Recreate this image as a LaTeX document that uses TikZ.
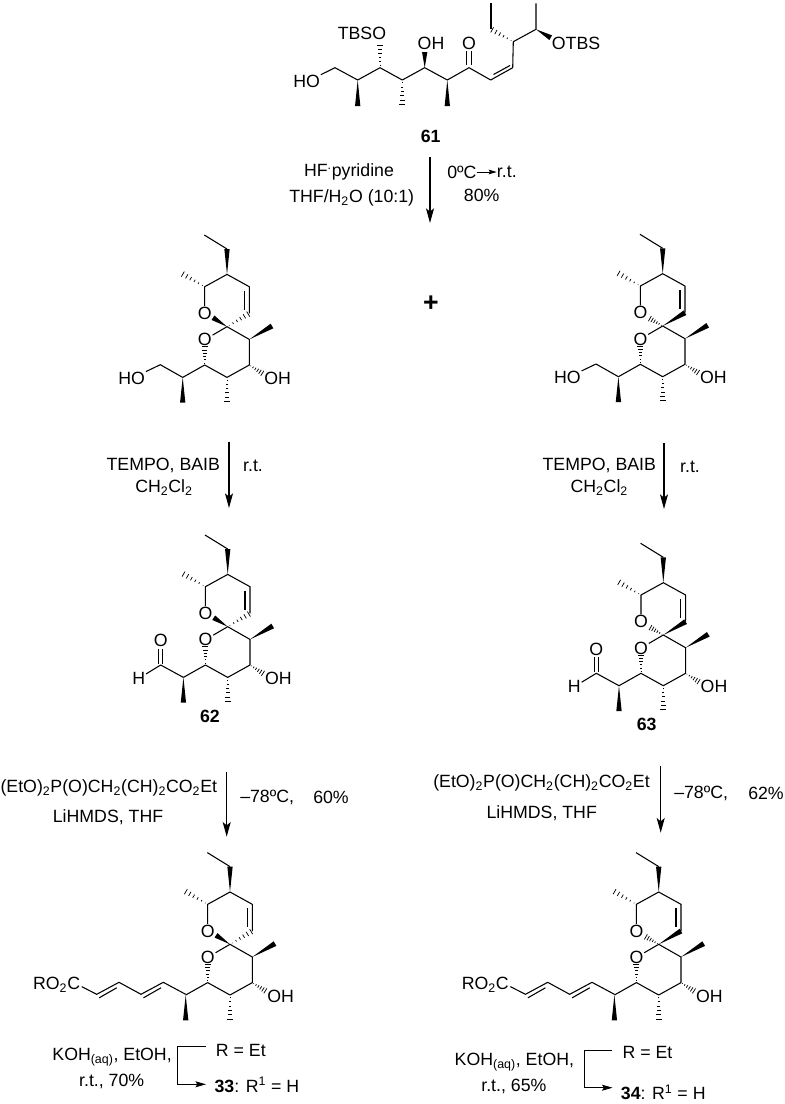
\documentclass[tikz,border=0pt]{standalone}
\usepackage{fontspec}
\setmainfont{Liberation Sans}
\usetikzlibrary{calc,arrows.meta,positioning}

\newcommand{\hashbond}[2]{%
	\foreach \t in {0.1,0.27,0.44,0.61,0.78,0.95} {%
		\draw[hash] ($#1!\t!#2!\t*2.3pt!90:#2$) -- ($#1!\t!#2!\t*2.3pt!-90:#2$);}}
\newcommand{\wedgebond}[2]{%
	\fill #1 -- ($#2!2pt!90:#1$) -- ($#2!2pt!-90:#1$) -- cycle;}

\tikzset{
	bond/.style={line width=0.8pt,line join=round},
	hash/.style={line width=0.55pt},
	atom/.style={inner sep=0.5pt,font=\fontsize{13.3}{16}\selectfont},
	txt/.style={inner sep=0pt,font=\fontsize{13.3}{16}\selectfont},
	lab/.style={inner sep=0pt,font=\fontsize{13.3}{16}\bfseries},
	rxn/.style={line width=0.8pt,-{Stealth[length=11pt,width=6pt,inset=2.5pt]}},
	tinyrxn/.style={line width=0.6pt,-{Stealth[length=6pt,width=3.5pt,inset=1pt]}},
	bentrxn/.style={line width=0.6pt,-{Stealth[length=8pt,width=4.5pt,inset=1.5pt]}},
	spirocore/.pic={
		\coordinate (s) at (0,0);
		\coordinate (c3) at (0,-52.3);
		\coordinate (c2) at (-22.3,-40);
		\coordinate (c4) at (22.3,-40);
		\coordinate (c5) at (22.3,-13.3);
		\coordinate (c7) at (22.3,12.7);
		\coordinate (c8) at (22.3,38.3);
		\coordinate (c9) at (0,50.7);
		\coordinate (c10) at (-22.3,38.3);
		\coordinate (c11) at (-44.3,50.7);
		\coordinate (et) at (0,-77.7);
		\node[atom] (o1) at (-22.3,-13.3) {O};
		\node[atom] (o2) at (-22.3,13) {O};
		\node[atom] (oh) at (50.7,51.7) {OH};
		\draw[bond] (-22.7,-91.7) -- (et);
		\draw[bond] (o1) -- (c2) -- (c3) -- (c4) -- (c5);
		\draw[bond] (17.3,-36) -- (17.3,-17);
		\draw[bond] (o2) -- (s) -- (c7) -- (c8) -- (c9) -- (c10) -- (c11);
		\wedgebond{(c3)}{(et)}
		\hashbond{(c2)}{(-45.3,-53.3)}
		\wedgebond{(c7)}{(45,-0.7)}
		\hashbond{(c8)}{(36,47)}
		\hashbond{(c9)}{(0,76)}
		\hashbond{(c10)}{(-22.3,19)}
		\wedgebond{(c11)}{(-44.3,76)}
	},
	spiroleft/.pic={
		\pic {spirocore};
		\wedgebond{(s)}{(-14,-9)}
		\hashbond{(s)}{(c5)}
	},
	spiroright/.pic={
		\pic {spirocore};
		\hashbond{(s)}{(-13.5,-7.8)}
		\wedgebond{(s)}{(c5)}
	},
	alcoholchain/.pic={
		\node[atom] (ho) at (-95.3,51.7) {HO};
		\draw[bond] (-44.3,50.7) -- (-66.7,38) -- (ho);
	},
	aldehydechain/.pic={
		\node[atom] (ald) at (-67,14) {O};
		\node[atom] (h) at (-89,51.7) {H};
		\draw[bond] (-44.3,50.7) -- (-67,38.3) -- (h);
		\draw[bond] (-69.2,37) -- (-69.2,22);
		\draw[bond] (-64.8,37) -- (-64.8,22);
	},
	dienechain/.pic={
		\node[atom,anchor=base east] (est) at (-149,45) {RO\textsubscript{2}C};
		\draw[bond] (-44.3,50) -- (-66.7,38) -- (-89,50) -- (-111,38) -- (-133.3,50) -- (-148.3,42.3);
		\draw[bond] (-69,43.5) -- (-86.5,53.5);
		\draw[bond] (-113.3,43.5) -- (-130.8,53.5);
	},
}

\begin{document}
\begin{tikzpicture}[x=0.75pt,y=-0.75pt]
	\useasboundingbox (0,0) rectangle (785,1104);

	% compound 61
	\node[atom] (ho61) at (306.7,81.7) {HO};
	\node[atom,anchor=east] (tbso) at (387,33.3) {TBSO};
	\node[atom] (oh61) at (431,43.3) {OH};
	\node[atom] (o61) at (469,43.3) {O};
	\node[atom,anchor=west] (otbs) at (551,43.3) {OTBS};
	\draw[bond] (ho61) -- (335,67.7) -- (357.7,80) -- (380,67.7) -- (402.3,80) -- (424.7,67.7) -- (447.3,80) -- (469,67.7) -- (490.7,80) -- (512.7,67.7) -- (513.3,41.7) -- (536,29.3) -- (536,3.3);
	\draw[bond] (493.5,74.5) -- (510,65.5);
	\draw[bond] (466.8,65) -- (466.8,51);
	\draw[bond] (471.2,65) -- (471.2,51);
	\draw[bond] (491,29.3) -- (491,3.3);
	\wedgebond{(357.7,80)}{(357.7,106)}
	\hashbond{(380,67.7)}{(380,44)}
	\hashbond{(402.3,80)}{(402.3,106)}
	\wedgebond{(424.7,67.7)}{(424.7,52)}
	\wedgebond{(447.3,80)}{(447.3,106)}
	\hashbond{(513.3,41.7)}{(491,29.3)}
	\wedgebond{(536,29.3)}{(550.7,37.7)}
	\node[lab] (l61) at (430.7,136) {61};

	% first step
	\coordinate (a1s) at (430,156.7);
	\coordinate (a1e) at (430,223);
	\draw[rxn] (a1s) -- (a1e);
	\node[txt] (t1a) at (349,172) {HF\textsuperscript{.}pyridine};
	\node[txt] (t1b) at (351.7,198) {THF/H\textsubscript{2}O (10:1)};
	\node[txt,anchor=east] (t1c) at (476.7,172) {0ºC};
	\node[txt,anchor=west] (t1d) at (496.7,172) {r.t.};
	\draw[tinyrxn] (t1c) -- (t1d);
	\node[txt] (t1e) at (481.7,195) {80\%};

	% spiroketals
	\pic (m1) at (227,326.7) {spiroleft};
	\pic (m1) at (227,326.7) {alcoholchain};
	\pic (m2) at (662.7,326) {spiroright};
	\pic (m2) at (662.7,326) {alcoholchain};
	\node[txt,font=\fontsize{20}{24}\bfseries] (plus) at (431,304) {+};

	% oxidation
	\coordinate (a2s) at (229,441.7);
	\coordinate (a2e) at (229,508);
	\draw[rxn] (a2s) -- (a2e);
	\node[txt] (t2a) at (163.3,465.7) {TEMPO, BAIB};
	\node[txt] (t2b) at (164,488) {CH\textsubscript{2}Cl\textsubscript{2}};
	\node[txt] (t2c) at (253,466) {r.t.};
	\coordinate (a3s) at (664,443);
	\coordinate (a3e) at (664,509);
	\draw[rxn] (a3s) -- (a3e);
	\node[txt] (t3a) at (599.3,465.7) {TEMPO, BAIB};
	\node[txt] (t3b) at (599.3,488) {CH\textsubscript{2}Cl\textsubscript{2}};
	\node[txt] (t3c) at (690,467) {r.t.};

	% compounds 62, 63
	\pic (m3) at (227.7,626.7) {spiroleft};
	\pic (m3) at (227.7,626.7) {aldehydechain};
	\node[lab] (l62) at (210,716) {62};
	\pic (m4) at (663.3,635) {spiroright};
	\pic (m4) at (663.3,635) {aldehydechain};
	\node[lab] (l63) at (646.7,724) {63};

	% olefination
	\coordinate (a4s) at (226.7,771.7);
	\coordinate (a4e) at (226.7,836.7);
	\draw[rxn] (a4s) -- (a4e);
	\node[txt,anchor=east] (t4a) at (217.3,788) {(EtO)\textsubscript{2}P(O)CH\textsubscript{2}(CH)\textsubscript{2}CO\textsubscript{2}Et};
	\node[txt] (t4b) at (108,817) {LiHMDS, THF};
	\node[txt,anchor=west] (t4c) at (240,797) {–78ºC,};
	\node[txt,anchor=west] (t4d) at (313,797) {60\%};
	\coordinate (a5s) at (660.7,766);
	\coordinate (a5e) at (660.7,832.7);
	\draw[rxn] (a5s) -- (a5e);
	\node[txt,anchor=east] (t5a) at (650,783) {(EtO)\textsubscript{2}P(O)CH\textsubscript{2}(CH)\textsubscript{2}CO\textsubscript{2}Et};
	\node[txt] (t5b) at (541.7,812.7) {LiHMDS, THF};
	\node[txt,anchor=west] (t5c) at (674,793) {–78ºC,};
	\node[txt,anchor=west] (t5d) at (748,793) {62\%};

	% esters
	\pic (m5) at (230,944.3) {spiroleft};
	\pic (m5) at (230,944.3) {dienechain};
	\pic (m6) at (658.7,944.3) {spiroright};
	\pic (m6) at (658.7,944.3) {dienechain};

	% hydrolysis
	\node[txt,anchor=east] (t6a) at (172,1056.7) {KOH\textsubscript{(aq)}, EtOH,};
	\node[txt] (t6b) at (111.7,1081.7) {r.t., 70\%};
	\node[txt,anchor=west] (r33) at (215.7,1050) {R = Et};
	\node[txt,anchor=west] (p33) at (214.3,1085) {\textbf{33}: R\textsuperscript{1} = H};
	\coordinate (b1a) at (205.7,1046.7);
	\coordinate (b1b) at (177.3,1046.7);
	\coordinate (b1c) at (177.3,1084.3);
	\coordinate (b1d) at (206,1084.3);
	\draw[bentrxn] (b1a) -- (b1b) -- (b1c) -- (b1d);
	\node[txt,anchor=east] (t7a) at (574.3,1061.7) {KOH\textsubscript{(aq)}, EtOH,};
	\node[txt,anchor=east] (t7b) at (546.7,1086.7) {r.t., 65\%};
	\node[txt,anchor=west] (r34) at (622.3,1052.3) {R = Et};
	\node[txt,anchor=west] (p34) at (620.7,1092.3) {\textbf{34}: R\textsuperscript{1} = H};
	\coordinate (b2a) at (612.3,1050);
	\coordinate (b2b) at (584,1050);
	\coordinate (b2c) at (584,1087.7);
	\coordinate (b2d) at (612.6,1087.7);
	\draw[bentrxn] (b2a) -- (b2b) -- (b2c) -- (b2d);
\end{tikzpicture}
\end{document}
